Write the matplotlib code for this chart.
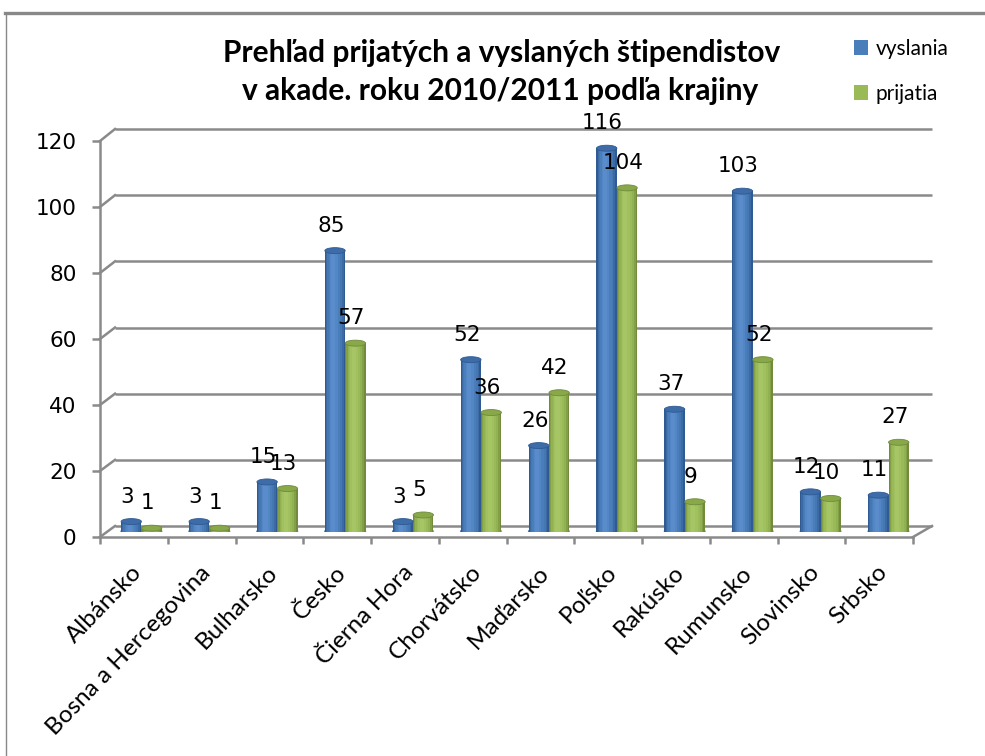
import matplotlib
matplotlib.use('Agg')
import matplotlib.pyplot as plt
from matplotlib.patches import Ellipse, Patch
from matplotlib.lines import Line2D
from matplotlib.colors import to_rgb

categories = ['Albánsko', 'Bosna a Hercegovina', 'Bulharsko', 'Česko', 'Čierna Hora',
              'Chorvátsko', 'Maďarsko', 'Poľsko', 'Rakúsko', 'Rumunsko', 'Slovinsko', 'Srbsko']
vyslania = [3, 3, 15, 85, 3, 52, 26, 116, 37, 103, 12, 11]
prijatia = [1, 1, 13, 57, 5, 36, 42, 104, 9, 52, 10, 27]
series_names = ['vyslania', 'prijatia']
yticks = [0, 20, 40, 60, 80, 100, 120]
title_lines = ['Prehľad prijatých a vyslaných štipendistov',
               'v akade. roku 2010/2011 podľa krajiny']

W, H = 985, 756
fig = plt.figure(figsize=(W / 100, H / 100), dpi=100)
fig.patch.set_facecolor('white')

GRID = '#8a8a8a'
NUMFONT = 'DejaVu Sans'
CATFONT = 'Lato'
BLUE = dict(dark='#2f5a92', main='#4a7ebb', light='#5a8ccb', top='#3d6ca8')
GREEN = dict(dark='#708b3a', main='#9aba58', light='#a6c565', top='#88a84a')


def box(x0, x1, y0, y1):
    return [x0 / W, 1 - y0 / H, (x1 - x0) / W, (y0 - y1) / H]


def mix(c1, c2, t):
    a, b = to_rgb(c1), to_rgb(c2)
    return tuple(a[k] + (b[k] - a[k]) * t for k in range(3))


ax_back = fig.add_axes(box(115, 932, 526, 129))
ax_mid = fig.add_axes(box(107.5, 922.5, 531.5, 135))
ax_front = fig.add_axes(box(100, 913, 537, 141))
n = len(categories)
ymax = yticks[-1]
for a in (ax_back, ax_mid, ax_front):
    a.set_xlim(0, n)
    a.set_ylim(0, ymax)
    a.patch.set_visible(False)
    for s in a.spines.values():
        s.set_visible(False)
    a.set_xticks([])
    a.set_yticks([])

# back wall gridlines
ax_back.hlines(yticks, 0, n, color=GRID, lw=1.8, clip_on=False)

# front axis
ax_front.spines['left'].set_visible(True)
ax_front.spines['bottom'].set_visible(True)
for s in ('left', 'bottom'):
    ax_front.spines[s].set_color(GRID)
    ax_front.spines[s].set_linewidth(1.8)
ax_front.set_yticks(yticks)
ax_front.set_yticklabels([str(v) for v in yticks], fontsize=15.5, family=NUMFONT)
ax_front.set_xticks(range(n + 1))
ax_front.set_xticklabels([])
ax_front.tick_params(axis='y', length=6, width=1.8, color=GRID, pad=11)
ax_front.tick_params(axis='x', length=5, width=1.8, color=GRID)

for i, c in enumerate(categories):
    ax_front.annotate(c, xy=(i + 0.5, 0), xytext=(5, -32), textcoords='offset pixels',
                      rotation=46, ha='right', va='center', rotation_mode='anchor',
                      fontsize=17.5, family=CATFONT, annotation_clip=False)

# connectors between front and back planes
to_fig = fig.transFigure.inverted()


def connect(xv, yv):
    p1 = to_fig.transform(ax_front.transData.transform((xv, yv)))
    p2 = to_fig.transform(ax_back.transData.transform((xv, yv)))
    fig.add_artist(Line2D([p1[0], p2[0]], [p1[1], p2[1]], color=GRID, lw=1.8,
                          transform=fig.transFigure))


for v in yticks:
    connect(0, v)
connect(n, 0)

# cylinders (shaded by nested bars)
w = 0.3
unit_px = (531.5 - 135) / ymax
cap_h = 6 / unit_px
layers = [(1.0, 0.0, 0.0), (0.86, -0.004, 0.45), (0.72, -0.008, 0.8), (0.56, -0.012, 1.0),
          (0.38, -0.018, 1.25), (0.2, -0.024, 1.45)]
for vals, col, off in ((vyslania, BLUE, -w / 2), (prijatia, GREEN, w / 2)):
    xs = [i + 0.5 + off for i in range(n)]
    for x in xs:
        ax_mid.add_patch(Ellipse((x, 0), w, cap_h, color=col['main'], zorder=1))
    for k, (frac, dx, t) in enumerate(layers):
        if t <= 1.0:
            fc = mix(col['dark'], col['main'], t)
        else:
            fc = mix(col['main'], col['light'], (t - 1.0) / 0.45)
        ax_mid.bar([x + dx * w / 0.3 for x in xs], vals, width=w * frac, color=fc,
                   zorder=2 + k * 0.1)
    for x, v in zip(xs, vals):
        ax_mid.add_patch(Ellipse((x, v), w, cap_h, facecolor=col['top'],
                                 edgecolor=col['dark'], lw=0.6, zorder=5))
        ax_mid.annotate(str(v), xy=(x, v), xytext=(-4, 25), textcoords='offset pixels',
                        ha='center', va='center', fontsize=15.5, family=NUMFONT,
                        annotation_clip=False, zorder=6)

# title
fig.text(502 / W, 1 - 62 / H, title_lines[0], ha='center', va='baseline',
         fontsize=21.5, fontweight='bold', family=CATFONT)
fig.text(500 / W, 1 - 100 / H, title_lines[1], ha='center', va='baseline',
         fontsize=21.5, fontweight='bold', family=CATFONT)

# legend
handles = [Patch(facecolor=BLUE['main']), Patch(facecolor=GREEN['main'])]
leg = fig.legend(handles, series_names, loc='upper left', bbox_to_anchor=(835 / W, 1 - 20 / H),
                 frameon=False, handlelength=0.7, handleheight=0.7,
                 handletextpad=0.35, labelspacing=1.2, prop={'family': CATFONT, 'size': 15})

# border
fig.add_artist(Line2D([5 / W, 1], [1 - 13 / H, 1 - 13 / H], color='#888888', lw=2.4,
                      transform=fig.transFigure))
fig.add_artist(Line2D([6 / W, 6 / W], [0, 1 - 13 / H], color='#888888', lw=1.0,
                      transform=fig.transFigure))

fig.savefig('out.png', dpi=100)
